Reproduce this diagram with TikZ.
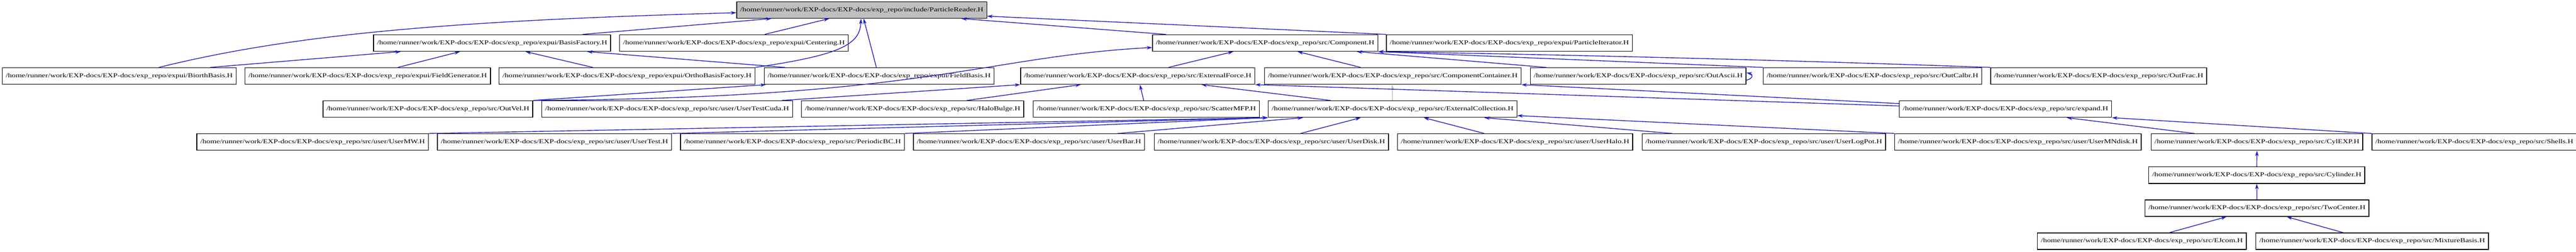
\documentclass[tikz,border=0pt]{standalone}
\usepackage{graphicx}
\usepackage{fontspec}
\setmainfont{Liberation Serif}
\usetikzlibrary{arrows.meta}
\definecolor{eblue}{RGB}{30,30,200}
\definecolor{pgray}{RGB}{191,191,191}
\newcommand\pfx{/home/runner/work/EXP-docs/EXP-docs/exp\_repo/}
\newcommand\fn[6][white]{%
\pgfmathsetmacro\nw{(#4-#3)*0.01}\pgfmathsetmacro\tw{(#4-#3-20)*0.01}%
\pgfmathsetmacro\nx{(#3+#4)*0.005}\pgfmathsetmacro\ny{-(29+96*(#5-1))*0.01}%
\node[box,fill=#1,minimum width=\nw cm] (#2) at (\nx,\ny) {\resizebox*{\tw cm}{0.16cm}{\pfx #6}};}
\tikzset{box/.style={draw=black,line width=0.6pt,minimum height=0.48cm,inner sep=0pt},
edge/.style={eblue,line width=0.6pt,-{Stealth[length=0.16cm,width=0.1cm]}}}
\newcommand\E[5][]{\draw[edge,#1] ([xshift=#3*0.01cm]#2.north west) -- ([xshift=#5*0.01cm]#4.south west);}
\begin{document}
\begin{tikzpicture}
\useasboundingbox (0,0) rectangle (74.85,-7.31);
\fn[pgray]{PR}{2138}{2865}{1}{include/ParticleReader.H}
\fn{BF}{1084}{1773}{2}{expui/BasisFactory.H}
\fn{Cent}{1798}{2463}{2}{expui/Centering.H}
\fn{Comp}{3345}{4000}{2}{src/Component.H}
\fn{PI}{4024}{4739}{2}{expui/ParticleIterator.H}
\fn{Bio}{6}{686}{3}{expui/BiorthBasis.H}
\fn{FG}{711}{1424}{3}{expui/FieldGenerator.H}
\fn{OBF}{1448}{2192}{3}{expui/OrthoBasisFactory.H}
\fn{FB}{2218}{2886}{3}{expui/FieldBasis.H}
\fn{EF}{2962}{3643}{3}{src/ExternalForce.H}
\fn{CC}{3670}{4416}{3}{src/ComponentContainer.H}
\fn{OA}{4442}{5069}{3}{src/OutAscii.H}
\fn{OC}{5118}{5753}{3}{src/OutCalbr.H}
\fn{OF}{5778}{6406}{3}{src/OutFrac.H}
\fn{OV}{937}{1547}{4}{src/OutVel.H}
\fn{UTC}{1572}{2301}{4}{src/user/UserTestCuda.H}
\fn{HB}{2326}{2972}{4}{src/HaloBulge.H}
\fn{SM}{2999}{3656}{4}{src/ScatterMFP.H}
\fn{EC}{3681}{4404}{4}{src/ExternalCollection.H}
\fn{EXP}{5513}{6130}{4}{src/expand.H}
\fn{UMW}{571}{1244}{5}{src/user/UserMW.H}
\fn{UT}{1269}{1950}{5}{src/user/UserTest.H}
\fn{PBC}{1975}{2626}{5}{src/PeriodicBC.H}
\fn{UB}{2651}{3323}{5}{src/user/UserBar.H}
\fn{UD}{3350}{4031}{5}{src/user/UserDisk.H}
\fn{UH}{4056}{4740}{5}{src/user/UserHalo.H}
\fn{ULP}{4766}{5474}{5}{src/user/UserLogPot.H}
\fn{UMN}{5499}{6216}{5}{src/user/UserMNdisk.H}
\fn{CYL}{6244}{6859}{5}{src/CylEXP.H}
\fn{SH}{6885}{7480}{5}{src/Shells.H}
\fn{CYN}{6237}{6865}{6}{src/Cylinder.H}
\fn{TC}{6226}{6877}{7}{src/TwoCenter.H}
\fn{EJ}{5914}{6521}{8}{src/EJcom.H}
\fn{MB}{6548}{7224}{8}{src/MixtureBasis.H}
% edges
\draw[edge] ([xshift=4.56cm]Bio.north west) .. controls (8.5,-1.0) and (13,-0.6) .. ([yshift=-0.08cm]PR.west);
\E{Bio}{605}{BF}{80}
\E{BF}{609}{PR}{102}
\E{Cent}{423}{PR}{270}
\E{FG}{445}{BF}{252}
\E{OBF}{274}{BF}{443}
\E{FB}{62}{BF}{622}
\draw[edge] (OBF.north east) .. controls (24.4,-1.6) and (25,-1.3) .. ([xshift=3.62cm]PR.south west);
\E{FB}{327}{PR}{370}
\E{Comp}{40}{PR}{654}
\draw[edge] (PI.north west) -- ([yshift=-0.18cm]PR.east);
\E{EF}{431}{Comp}{236}
\E{CC}{281}{Comp}{423}
\E{OA}{48}{Comp}{595}
\draw[edge] (OC.north west) -- (Comp.south east);
\draw[edge] (OF.north west) .. controls (52,-1.75) and (46,-1.6) .. (Comp.south east);
\draw[edge] ([yshift=-0.12cm]OA.east) .. controls +(0.2,0.05) and +(0.2,-0.05) .. ([yshift=0.1cm]OA.east);
\draw[edge] (OV.north east) -- ([xshift=0.06cm]FB.south west);
\draw[edge] (OV.north east) .. controls (27,-2.85) and (28.5,-1.65) .. ([yshift=-0.13cm]Comp.west);
\E{UTC}{700}{EF}{0}
\E{HB}{482}{EF}{176}
\E{SM}{322}{EF}{348}
\E{EC}{182}{EF}{527}
\E[draw=pgray]{EC}{362}{CC}{373}
\draw[edge] ([yshift=0.16cm]EXP.west) -- (CC.south east);
\draw[edge] ([yshift=0.09cm]EXP.west) -- (EF.south east);
\draw[edge] (UMW.north east) -- (EC.south west);
\draw[edge] (UT.north east) -- (EC.south west);
\draw[edge] (PBC.north east) -- (EC.south west);
\E{UB}{594}{EC}{102}
\E{UD}{426}{EC}{270}
\E{UH}{254}{EC}{453}
\E{ULP}{89}{EC}{629}
\draw[edge] (UMN.north west) -- ([yshift=-0.19cm]EC.east);
\E{CYL}{127}{EXP}{488}
\draw[edge] (SH.north west) -- (EXP.south east);
\draw[edge] (CYN.north) -- (CYL.south);
\draw[edge] (TC.north) -- (CYN.south);
\E{EJ}{385}{TC}{238}
\E{MB}{254}{TC}{413}
\end{tikzpicture}
\end{document}
